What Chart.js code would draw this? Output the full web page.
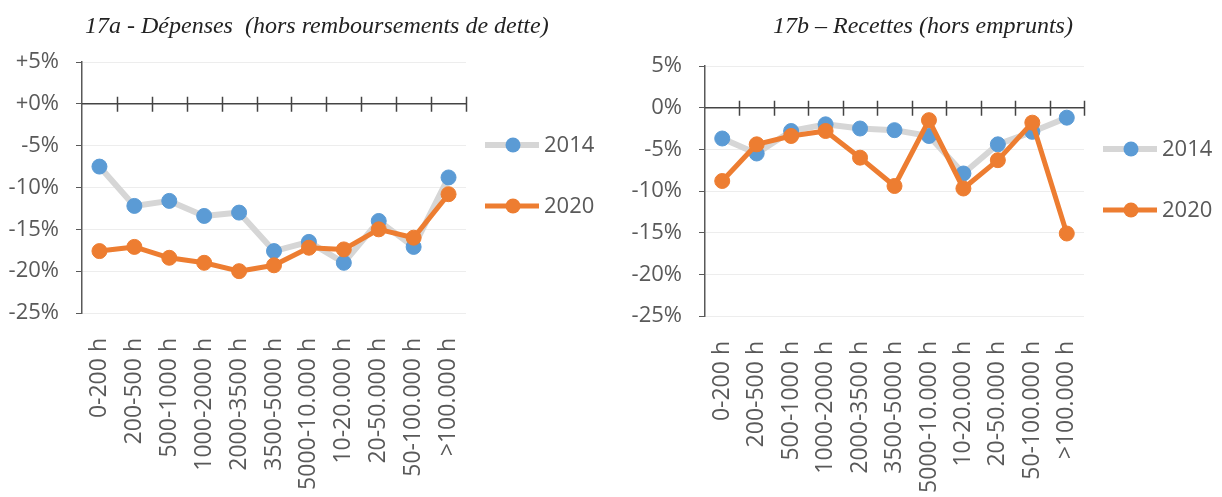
<!DOCTYPE html>
<html>
<head>
<meta charset="utf-8">
<script src="https://cdn.jsdelivr.net/npm/chart.js@4"></script>
<style>
  body { margin: 0; background: #fff; }
  #page { position: relative; width: 1222px; height: 497px; overflow: hidden; }
  .panel { position: absolute; top: 0; width: 611px; height: 497px; }
  .title {
    position: absolute; top: 10px; white-space: pre;
    font-family: "Liberation Serif", serif; font-style: italic;
    font-size: 24px; color: #222; line-height: 30px;
  }
</style>
</head>
<body>
<div id="page">
  <div class="panel" style="left:0"><canvas id="chartA"></canvas></div>
  <div class="panel" style="left:611px"><canvas id="chartB"></canvas></div>
  <div class="title" id="titleA" style="left:85px">17a - Dépenses  (hors remboursements de dette)</div>
  <div class="title" id="titleB" style="left:773px">17b – Recettes (hors emprunts)</div>
</div>
<script>
const categories = ["0-200 h", "200-500 h", "500-1000 h", "1000-2000 h", "2000-3500 h",
  "3500-5000 h", "5000-10.000 h", "10-20.000 h", "20-50.000 h", "50-100.000 h", ">100.000 h"];
const seriesNames = ["2014", "2020"];

// 17a - dépenses
const depenses2014 = [-7.5, -12.2, -11.6, -13.4, -13.0, -17.6, -16.5, -19.0, -14.0, -17.1, -8.8];
const depenses2020 = [-17.6, -17.1, -18.4, -19.0, -20.0, -19.3, -17.2, -17.4, -15.0, -16.0, -10.8];

// 17b - recettes
const recettes2014 = [-3.7, -5.5, -2.8, -2.0, -2.5, -2.7, -3.4, -7.9, -4.4, -2.9, -1.2];
const recettes2020 = [-8.8, -4.4, -3.4, -2.8, -6.0, -9.4, -1.5, -9.7, -6.3, -1.8, -15.1];

// y tick labels, top to bottom
const yTicksA = ["+5%", "+0%", "-5%", "-10%", "-15%", "-20%", "-25%"];
const yTicksB = ["5%", "0%", "-5%", "-10%", "-15%", "-20%", "-25%"];
const yMax = 5, yMin = -25, yStep = 5;

const grey = "#595959";
const uiFont = "'Open Sans', sans-serif";

// zero line crossing the plot, with tick marks between categories
const zeroAxis = {
  id: "zeroAxis",
  beforeDatasetsDraw(chart) {
    const { ctx, chartArea, scales } = chart;
    const y0 = scales.y.getPixelForValue(0);
    const n = chart.data.labels.length;
    const w = (chartArea.right - chartArea.left) / n;
    ctx.save();
    ctx.strokeStyle = "#444";
    ctx.lineWidth = 1.5;
    ctx.beginPath();
    ctx.moveTo(chartArea.left, y0);
    ctx.lineTo(chartArea.right, y0);
    for (let k = 1; k <= n; k++) {
      const x = Math.round(chartArea.left + k * w) + 0.5;
      ctx.moveTo(x, y0 - 7);
      ctx.lineTo(x, y0 + 8);
    }
    ctx.stroke();
    ctx.restore();
  }
};

// legend on the right: line + marker + text
const sideLegend = {
  id: "sideLegend",
  afterDraw(chart) {
    const { ctx, chartArea } = chart;
    ctx.save();
    chart.data.datasets.forEach((ds, i) => {
      const y = chartArea.top + 83 + i * 61;
      const x = chartArea.right + 19;
      ctx.strokeStyle = ds.borderColor;
      ctx.lineWidth = ds.borderWidth;
      ctx.beginPath();
      ctx.moveTo(x, y);
      ctx.lineTo(x + 54, y);
      ctx.stroke();
      ctx.fillStyle = ds.pointBackgroundColor;
      ctx.beginPath();
      ctx.arc(x + 28, y, 7.5, 0, Math.PI * 2);
      ctx.fill();
      ctx.fillStyle = grey;
      ctx.font = "22px " + uiFont;
      ctx.textBaseline = "middle";
      ctx.fillText(ds.label, x + 59, y + 1);
    });
    ctx.restore();
  }
};

function makeChart(canvasId, values2014, values2020, tickLabels, area) {
  const datasets = [
    {
      label: seriesNames[0],
      data: values2014,
      borderColor: "#d6d6d6",
      borderWidth: 6,
      pointRadius: 7.5,
      pointBackgroundColor: "#5b9bd5",
      pointBorderColor: "#5b9bd5",
      pointBorderWidth: 1,
      order: 2
    },
    {
      label: seriesNames[1],
      data: values2020,
      borderColor: "#ed7d31",
      borderWidth: 5,
      pointRadius: 7.5,
      pointBackgroundColor: "#ed7d31",
      pointBorderColor: "#ed7d31",
      pointBorderWidth: 1,
      order: 1
    }
  ];

  return new Chart(document.getElementById(canvasId), {
    type: "line",
    data: { labels: categories, datasets: datasets },
    options: {
      responsive: true,
      maintainAspectRatio: false,
      animation: false,
      layout: { padding: { top: area.top, right: area.right, bottom: 0, left: 0 } },
      elements: { line: { tension: 0, borderJoinStyle: "round" } },
      plugins: { legend: { display: false }, tooltip: { enabled: false } },
      scales: {
        x: {
          offset: true,
          grid: { display: false, drawTicks: false },
          border: { display: false },
          ticks: {
            autoSkip: false,
            minRotation: 90,
            maxRotation: 90,
            padding: 25,
            color: grey,
            font: { family: uiFont, size: 23 }
          },
          afterFit: (scale) => { scale.height = area.xHeight; }
        },
        y: {
          min: yMin,
          max: yMax,
          grid: { color: "#ededed", tickColor: grey, tickLength: 6, lineWidth: 1 },
          border: { display: true, color: grey, width: 1.5 },
          ticks: {
            stepSize: yStep,
            padding: 17,
            color: grey,
            font: { family: uiFont, size: 22 },
            callback: (value) => tickLabels[Math.round((yMax - value) / yStep)]
          },
          afterFit: (scale) => { scale.width = area.left; }
        }
      }
    },
    plugins: [zeroAxis, sideLegend]
  });
}

makeChart("chartA", depenses2014, depenses2020, yTicksA,
  { top: 62, right: 145, left: 82, xHeight: 184 });
makeChart("chartB", recettes2014, recettes2020, yTicksB,
  { top: 66, right: 138, left: 94, xHeight: 181 });
</script>
</body>
</html>
